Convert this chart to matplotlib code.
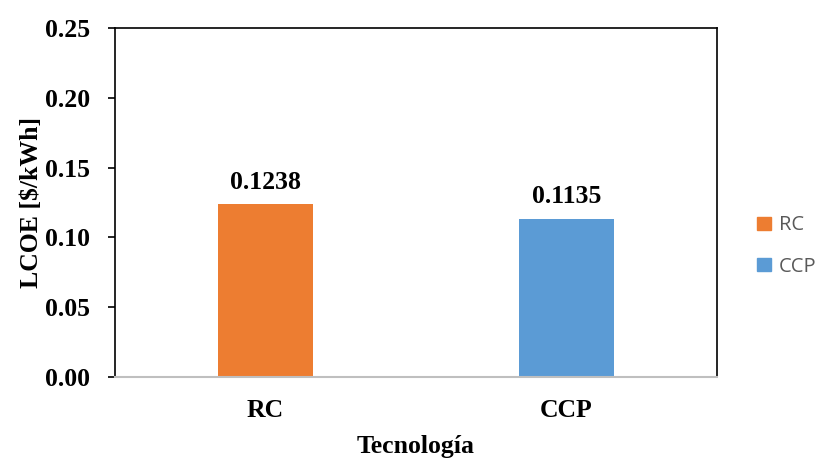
import matplotlib
matplotlib.use("Agg")
import matplotlib.pyplot as plt
from matplotlib.patches import Patch

# Data
categories = ["RC", "CCP"]
lcoe = [0.1238, 0.1135]
labels = ["0.1238", "0.1135"]
colors = ["#ED7D31", "#5B9BD5"]

plt.rcParams["font.family"] = "Liberation Serif"
fs = 18.5

fig = plt.figure(figsize=(8.18, 4.59), dpi=100)
ax = fig.add_axes([0.1406, 0.1786, 0.7359, 0.7604])

x = range(len(categories))
ax.bar(x, lcoe, width=0.316, color=colors, zorder=2)
for xi, v, lab in zip(x, lcoe, labels):
    ax.text(xi, v + 0.0075, lab, ha="center", va="bottom",
            fontsize=fs, fontweight="bold")

ax.set_xlim(-0.5, 1.5)
ax.set_ylim(0, 0.25)
ax.set_yticks([0, 0.05, 0.10, 0.15, 0.20, 0.25])
ax.set_yticklabels(["0.00", "0.05", "0.10", "0.15", "0.20", "0.25"],
                   fontsize=fs, fontweight="bold")
ax.set_xticks(list(x))
ax.set_xticklabels(categories, fontsize=fs, fontweight="bold")
ax.tick_params(axis="x", length=0, pad=16)
ax.tick_params(axis="y", direction="out", length=5, width=1.2, pad=13)

for s in ["left", "top", "right"]:
    ax.spines[s].set_color("black")
    ax.spines[s].set_linewidth(1.2)
ax.spines["bottom"].set_color("#BFBFBF")
ax.spines["bottom"].set_linewidth(1.5)

ax.set_ylabel("LCOE [$/kWh]", fontsize=fs, fontweight="bold", labelpad=1)
ax.set_xlabel("Tecnología", fontsize=fs, fontweight="bold", labelpad=9)

handles = [Patch(color=c) for c in colors]
fig.legend(handles, categories, loc="center left", bbox_to_anchor=(0.926, 0.464),
           frameon=False, prop={"family": "Open Sans", "size": 14.5},
           labelcolor="#595959", handlelength=0.65, handleheight=0.65,
           labelspacing=1.05, handletextpad=0.4, borderpad=0,
           borderaxespad=0)

fig.savefig("out.png", dpi=100)
